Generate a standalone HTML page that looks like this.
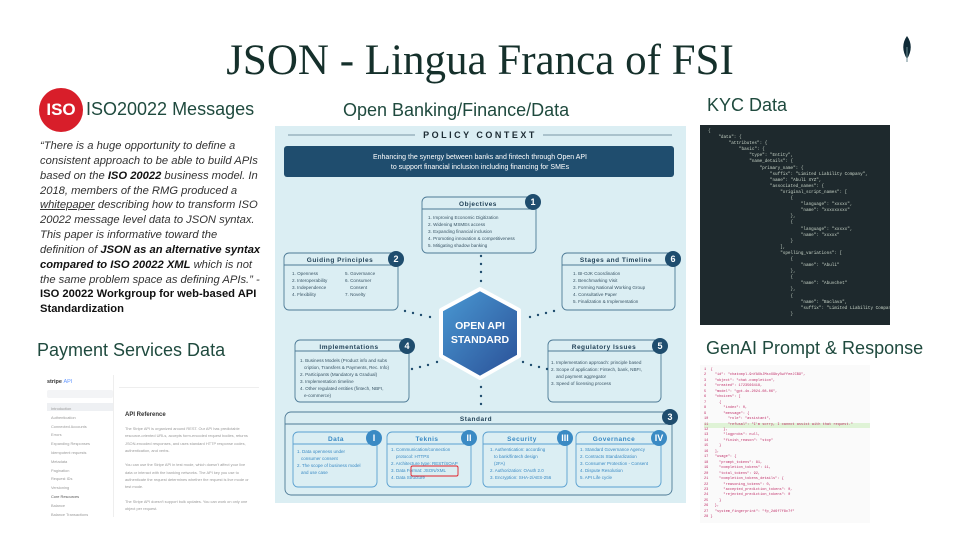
<!DOCTYPE html>
<html><head><meta charset="utf-8"><style>
body{margin:0;width:960px;height:540px;background:#fff;position:relative;overflow:hidden;font-family:"Liberation Sans",sans-serif}
.a{position:absolute}
h1{position:absolute;margin:0;left:0;width:960px;top:36px;text-align:center;font-family:"Liberation Serif",serif;font-weight:normal;font-size:43px;color:#15302b}
.hd{position:absolute;font-size:18px;color:#1f4a3e;white-space:nowrap}
.q{position:absolute;left:40px;top:139px;width:224px;font-size:11.2px;line-height:14.85px;font-style:italic;color:#333}
.q b{color:#111}
</style></head><body>
<h1>JSON - Lingua Franca of FSI</h1>
<svg class="a" style="left:899px;top:35px" width="16" height="28" viewBox="0 0 16 28"><path d="M8 1 C3 8 3 16 8 24 C13 16 13 8 8 1Z" fill="#0f2a36"/><line x1="8" y1="12" x2="8" y2="27" stroke="#6b8a90" stroke-width="1"/></svg>

<div class="a" style="left:39px;top:88px;width:44px;height:44px;border-radius:50%;background:#d81e2a"></div>
<div class="a" style="left:39px;top:100px;width:44px;text-align:center;color:#fff;font-weight:bold;font-size:17px">ISO</div>
<div class="hd" style="left:86px;top:99px">ISO20022 Messages</div>
<div class="hd" style="left:343px;top:100px">Open Banking/Finance/Data</div>
<div class="hd" style="left:707px;top:95px">KYC Data</div>
<div class="hd" style="left:37px;top:340px">Payment Services Data</div>
<div class="hd" style="left:706px;top:338px">GenAI Prompt &amp; Response</div>

<div class="q">“There is a huge opportunity to define a consistent approach to be able to build APIs based on the <b>ISO 20022</b> business model. In 2018, members of the RMG produced a <u>whitepaper</u> describing how to transform ISO 20022 message level data to JSON syntax. This paper is informative toward the definition of <b>JSON as an alternative syntax compared to ISO 20022 XML</b> which is not the same problem space as defining APIs.” - <b style="font-style:normal">ISO 20022 Workgroup for web-based API Standardization</b></div>

<!-- KYC code -->
<div class="a" style="left:700px;top:125px;width:190px;height:200px;background:#1e292d;font-family:'Liberation Mono',monospace;font-size:4.3px;line-height:6.1px;color:#c8d4c8;white-space:pre;padding:4px 0 0 8px;box-sizing:border-box;overflow:hidden">{
    "data": {
        "attributes": {
            "basic": {
                "type": "Entity",
                "name_details": {
                    "primary_name": {
                        "suffix": "Limited Liability Company",
                        "name": "Abuli XYZ",
                        "associated_names": {
                            "original_script_names": [
                                {
                                    "language": "xxxxx",
                                    "name": "xxxxxxxxx"
                                },
                                {
                                    "language": "xxxxx",
                                    "name": "xxxxx"
                                }
                            ],
                            "spelling_variations": [
                                {
                                    "name": "Abuli"
                                },
                                {
                                    "name": "Abuvchet"
                                },
                                {
                                    "name": "Baclava",
                                    "suffix": "Limited Liability Company"
                                }</div>

<!-- Stripe -->
<div class="a" style="left:37px;top:375px;width:222px;height:142px;font-size:3.9px;color:#888;overflow:hidden">
 <div class="a" style="left:10px;top:4px;font-weight:bold;color:#333;font-size:5.5px">stripe <span style="color:#69f;font-weight:normal">API</span></div>
 <div class="a" style="left:10px;top:15px;width:66px;height:8px;background:#f3f4f6;border-radius:2px"></div>
 <div class="a" style="left:10px;top:28px;width:66px;height:8px;background:#eef0f3"></div>
 <div class="a" style="left:14px;top:30px;line-height:8.8px;color:#999">Introduction<br>Authentication<br>Connected Accounts<br>Errors<br>Expanding Responses<br>Idempotent requests<br>Metadata<br>Pagination<br>Request IDs<br>Versioning<br><span style="color:#555">Core Resources</span><br>Balance<br>Balance Transactions</div>
 <div class="a" style="left:76px;top:0;width:1px;height:142px;background:#eee"></div>
 <div class="a" style="left:82px;top:12px;width:140px;height:1px;background:#eee"></div>
 <div class="a" style="left:88px;top:37px;font-size:6px;color:#333;font-weight:bold">API Reference</div>
 <div class="a" style="left:88px;top:50px;width:124px;line-height:7.3px;color:#999">The Stripe API is organized around REST. Our API has predictable resource-oriented URLs, accepts form-encoded request bodies, returns JSON-encoded responses, and uses standard HTTP response codes, authentication, and verbs.<br><br>You can use the Stripe API in test mode, which doesn't affect your live data or interact with the banking networks. The API key you use to authenticate the request determines whether the request is live mode or test mode.<br><br>The Stripe API doesn't support bulk updates. You can work on only one object per request.<br><br>The Stripe API differs for every account as we release new versions and tailor functionality. Log in to see docs customized to your version of the API, with your test key and data.</div>
</div>

<!-- GenAI -->
<div class="a" style="left:700px;top:365px;width:170px;height:158px;background:#fafafa;font-family:'Liberation Mono',monospace;font-size:3.6px;line-height:5.45px;color:#c0306a;white-space:pre;padding:3px 0 0 4px;box-sizing:border-box;overflow:hidden">1  {
2    "id": "chatcmpl-9nYAXbJMsxX9by5wYfeeJCB9",
3    "object": "chat.completion",
4    "created": 1723566418,
5    "model": "gpt-4o-2024-08-06",
6    "choices": [
7      {
8        "index": 0,
9        "message": {
10         "role": "assistant",
<span style="background:#dff3d6;display:inline-block;width:166px">11         "refusal": "I'm sorry, I cannot assist with that request."</span>
12       },
13       "logprobs": null,
14       "finish_reason": "stop"
15     }
16   ],
17   "usage": {
18     "prompt_tokens": 81,
19     "completion_tokens": 11,
20     "total_tokens": 92,
21     "completion_tokens_details": {
22       "reasoning_tokens": 0,
23       "accepted_prediction_tokens": 0,
24       "rejected_prediction_tokens": 0
25     }
26   },
27   "system_fingerprint": "fp_2d6f7f8c7f"
28 }</div>

<!-- Policy context diagram -->
<svg class="a" style="left:0;top:0" width="960" height="540" font-family="Liberation Sans, sans-serif">
<rect x="275" y="126" width="411" height="377" fill="#dbeef3"/>
<line x1="288" y1="135" x2="415" y2="135" stroke="#5a7a8a" stroke-width="0.8"/>
<line x1="543" y1="135" x2="672" y2="135" stroke="#5a7a8a" stroke-width="0.8"/>
<text x="480" y="138" text-anchor="middle" font-size="9" font-weight="bold" letter-spacing="2.5" fill="#1c2b33">POLICY CONTEXT</text>
<rect x="284" y="146" width="390" height="31" rx="3" fill="#1f4d6e"/>
<text x="480" y="159" text-anchor="middle" font-size="7" fill="#fff">Enhancing the synergy between banks and fintech through Open API</text>
<text x="480" y="169" text-anchor="middle" font-size="7" fill="#fff">to support financial inclusion including financing for SMEs</text>
<g fill="none" stroke="#4d7a96" stroke-width="0.9">
<rect x="422" y="197" width="114" height="56" rx="5"/><line x1="422" y1="209" x2="536" y2="209"/>
<rect x="284" y="253" width="114" height="57" rx="5"/><line x1="284" y1="265" x2="398" y2="265"/>
<rect x="562" y="253" width="113" height="57" rx="5"/><line x1="562" y1="265" x2="675" y2="265"/>
<rect x="295" y="340" width="114" height="62" rx="5"/><line x1="295" y1="351" x2="409" y2="351"/>
<rect x="548" y="340" width="113" height="62" rx="5"/><line x1="548" y1="351" x2="661" y2="351"/>
<rect x="285" y="412" width="387" height="83" rx="6"/><line x1="285" y1="424" x2="672" y2="424"/>
</g>
<g fill="none" stroke="#5aa0d0" stroke-width="0.9">
<rect x="293" y="432" width="84" height="55" rx="5"/><line x1="293" y1="444" x2="377" y2="444"/>
<rect x="387" y="432" width="84" height="55" rx="5"/><line x1="387" y1="444" x2="471" y2="444"/>
<rect x="483" y="432" width="84" height="55" rx="5"/><line x1="483" y1="444" x2="567" y2="444"/>
<rect x="576" y="432" width="85" height="55" rx="5"/><line x1="576" y1="444" x2="661" y2="444"/>
</g>
<g font-size="6.5" font-weight="bold" fill="#1f3f55" text-anchor="middle" letter-spacing="0.5">
<text x="478" y="206">Objectives</text><text x="340" y="262">Guiding Principles</text><text x="616" y="262">Stages and Timeline</text>
<text x="349" y="349">Implementations</text><text x="604" y="349">Regulatory Issues</text><text x="476" y="421">Standard</text>
</g>
<g font-size="6.5" font-weight="bold" fill="#3a8ac4" text-anchor="middle" letter-spacing="0.5">
<text x="336" y="441">Data</text><text x="427" y="441">Teknis</text><text x="522" y="441">Security</text><text x="614" y="441">Governance</text>
</g>
<g fill="#1f4d6e"><circle cx="533" cy="202" r="8"/><circle cx="396" cy="259" r="8"/><circle cx="673" cy="259" r="8"/><circle cx="407" cy="346" r="8"/><circle cx="660" cy="346" r="8"/><circle cx="670" cy="417" r="8"/></g>
<g fill="#3a8ac4"><circle cx="374" cy="438" r="8"/><circle cx="469" cy="438" r="8"/><circle cx="565" cy="438" r="8"/><circle cx="659" cy="438" r="8"/></g>
<g fill="#fff" font-size="9" font-weight="bold" text-anchor="middle">
<text x="533" y="205">1</text><text x="396" y="262">2</text><text x="673" y="262">6</text><text x="407" y="349">4</text><text x="660" y="349">5</text><text x="670" y="420">3</text>
<text x="374" y="441">I</text><text x="469" y="441">II</text><text x="565" y="441">III</text><text x="659" y="441">IV</text>
</g>
<g font-size="4.6" fill="#3a5566">
<text x="428" y="219">1. Improving Economic Digitization</text><text x="428" y="226">2. Widening MSMEs access</text><text x="428" y="233">3. Expanding financial inclusion</text><text x="428" y="240">4. Promoting innovation &amp; competitiveness</text><text x="428" y="247">5. Mitigating shadow banking</text>
<text x="292" y="275">1. Openness</text><text x="292" y="282">2. Interoperability</text><text x="292" y="289">3. Independence</text><text x="292" y="296">4. Flexibility</text>
<text x="345" y="275">5. Governance</text><text x="345" y="282">6. Consumer</text><text x="350" y="289">Consent</text><text x="345" y="296">7. Novelty</text>
<text x="573" y="275">1. BI-OJK Coordination</text><text x="573" y="282">2. Benchmarking Visit</text><text x="573" y="289">3. Forming National Working Group</text><text x="573" y="296">4. Consultative Paper</text><text x="573" y="303">5. Finalization &amp; Implementation</text>
<text x="300" y="362">1. Business Models (Product info and subs</text><text x="304" y="369">cription, Transfers &amp; Payments, Rec. Info)</text><text x="300" y="376">2. Participants (Mandatory &amp; Gradual)</text><text x="300" y="383">3. Implementation timeline</text><text x="300" y="390">4. Other regulated entities (fintech, NBFI,</text><text x="304" y="397">e-commerce)</text>
<text x="551" y="364">1. Implementation approach: principle based</text><text x="551" y="371">2. Scope of application: Fintech, bank, NBFI,</text><text x="556" y="378">and payment aggregator</text><text x="551" y="385">3. Speed of licensing process</text>
</g>
<g font-size="4.5" fill="#3a8ac4">
<text x="297" y="453">1. Data openness under</text><text x="301" y="460">consumer consent</text><text x="297" y="467">2. The scope of business model</text><text x="301" y="474">and use case</text>
<text x="391" y="451">1. Communication/connection</text><text x="396" y="458">protocol: HTTPS</text><text x="391" y="465">2. Architecture type: REST/SOAP</text><text x="391" y="472">3. Data Format: JSON/XML</text><text x="391" y="479">4. Data Structure</text>
<text x="490" y="451">1. Authentication: according</text><text x="494" y="458">to bank/fintech design</text><text x="494" y="465">(2FA)</text><text x="490" y="472">2. Authorization: OAuth 2.0</text><text x="490" y="479">3. Encryption: SHA-2/AES-256</text>
<text x="580" y="451">1. Standard Governance Agency</text><text x="580" y="458">2. Contracts Standardization</text><text x="580" y="465">3. Consumer Protection - Consent</text><text x="580" y="472">4. Dispute Resolution</text><text x="580" y="479">5. API Life cycle</text>
</g>
<rect x="411" y="466" width="47" height="10" rx="1.5" fill="none" stroke="#e0202a" stroke-width="0.9"/>
<g fill="#1f4d6e">
<circle cx="481" cy="256" r="1.2"/><circle cx="481" cy="264" r="1.2"/><circle cx="481" cy="272" r="1.2"/><circle cx="481" cy="281" r="1.2"/>
<circle cx="405" cy="311" r="1.2"/><circle cx="413" cy="313" r="1.2"/><circle cx="421" cy="315" r="1.2"/><circle cx="430" cy="317" r="1.2"/>
<circle cx="530" cy="317" r="1.2"/><circle cx="538" cy="315" r="1.2"/><circle cx="546" cy="313" r="1.2"/><circle cx="554" cy="311" r="1.2"/>
<circle cx="412" cy="369" r="1.2"/><circle cx="420" cy="367" r="1.2"/><circle cx="428" cy="365" r="1.2"/><circle cx="437" cy="362" r="1.2"/>
<circle cx="523" cy="362" r="1.2"/><circle cx="531" cy="365" r="1.2"/><circle cx="539" cy="367" r="1.2"/><circle cx="547" cy="369" r="1.2"/>
<circle cx="481" cy="387" r="1.2"/><circle cx="481" cy="396" r="1.2"/><circle cx="481" cy="404" r="1.2"/>
</g>
<defs><linearGradient id="g" x1="0" y1="0" x2="1" y2="1"><stop offset="0" stop-color="#4a9ad4"/><stop offset="1" stop-color="#2a4f96"/></linearGradient></defs>
<polygon points="480,289 519,310 519,356 480,378 441,356 441,310" fill="url(#g)" stroke="#fff" stroke-width="4" stroke-linejoin="round"/>
<text x="480" y="329" text-anchor="middle" font-size="10.5" font-weight="bold" fill="#fff">OPEN API</text>
<text x="480" y="343" text-anchor="middle" font-size="10.5" font-weight="bold" fill="#fff">STANDARD</text>
</svg>
</body></html>
